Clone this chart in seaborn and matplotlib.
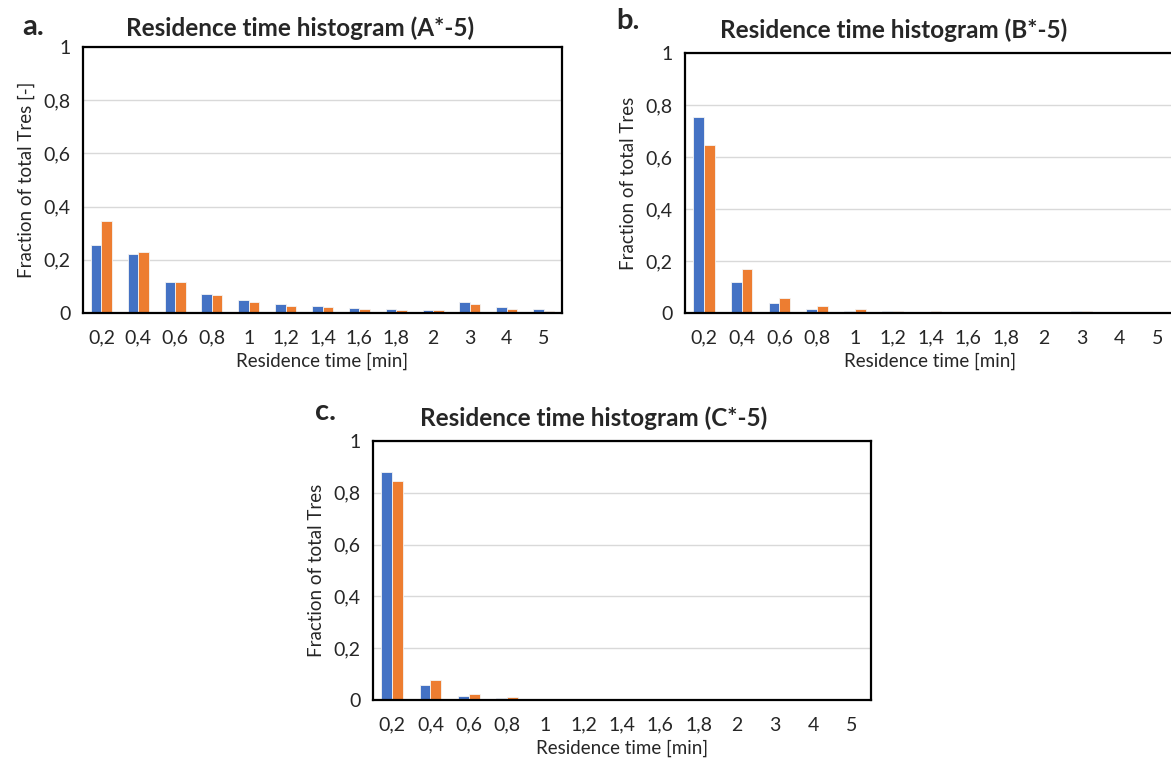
import numpy as np
import pandas as pd
import matplotlib.pyplot as plt
import seaborn as sns

sns.set_theme(style="white")
plt.rcParams["font.family"] = ["Lato", "DejaVu Sans"]

# ── Data ────────────────────────────────────────────────────
time_labels = ["0,2", "0,4", "0,6", "0,8", "1", "1,2", "1,4", "1,6", "1,8", "2", "3", "4", "5"]

a_blue = [0.254, 0.223, 0.118, 0.071, 0.048, 0.035, 0.027, 0.020, 0.016, 0.013, 0.043, 0.024, 0.014]
a_orange = [0.346, 0.228, 0.115, 0.066, 0.043, 0.028, 0.022, 0.016, 0.013, 0.010, 0.033, 0.016, 0.008]

b_blue = [0.755, 0.121, 0.039, 0.017, 0.009, 0.006, 0.005, 0.001, 0.001, 0.0005, 0.006, 0.001, 0.001]
b_orange = [0.645, 0.170, 0.058, 0.027, 0.017, 0.009, 0.009, 0.005, 0.004, 0.002, 0.009, 0.004, 0.003]

c_blue = [0.880, 0.058, 0.017, 0.008, 0.004, 0.003, 0.001, 0.0005, 0.0005, 0.0005, 0.001, 0.0005, 0.0005]
c_orange = [0.847, 0.077, 0.023, 0.012, 0.004, 0.003, 0.001, 0.0005, 0.0005, 0.0005, 0.002, 0.0005, 0.0005]

y_ticks = [0, 0.2, 0.4, 0.6, 0.8, 1.0]
y_labels = ["0", "0,2", "0,4", "0,6", "0,8", "1"]

BLUE = "#4472C4"
ORANGE = "#ED7D31"

W, H = 1171, 760
fig = plt.figure(figsize=(W / 100, H / 100), dpi=100)


def px_axes(x0, y0, x1, y1):
    # pixel box (top-left origin) -> figure axes
    return fig.add_axes([x0 / W, 1 - y1 / H, (x1 - x0) / W, (y1 - y0) / H])


def draw_panel(ax, blue, orange, ylabel):
    df = pd.DataFrame({
        "time": time_labels * 2,
        "frac": blue + orange,
        "series": ["s1"] * len(blue) + ["s2"] * len(orange),
    })
    sns.barplot(
        data=df, x="time", y="frac", hue="series", order=time_labels,
        palette=[BLUE, ORANGE], saturation=1, width=0.57, legend=False, ax=ax,
        edgecolor="#f4f4f4", linewidth=0.6,
    )
    n = len(time_labels)
    ax.set_xlim(-0.5, n - 0.5)
    ax.set_ylim(0, 1)
    ax.set_yticks(y_ticks)
    ax.set_yticklabels(y_labels, fontsize=14)
    # category-boundary ticks, labels at centres
    ax.set_xticks(np.arange(-0.5, n, 1.0))
    ax.set_xticklabels([])
    ax.set_xticks(np.arange(n), minor=True)
    ax.set_xticklabels(time_labels, minor=True, fontsize=14)
    ax.tick_params(axis="x", which="major", length=5, width=1.2, color="black", direction="out")
    ax.tick_params(axis="x", which="minor", length=0, pad=12)
    ax.tick_params(axis="y", length=5, width=1.2, color="black", direction="out", pad=4)
    ax.grid(axis="y", color="#D9D9D9", linewidth=1.0)
    ax.set_axisbelow(True)
    for sp in ax.spines.values():
        sp.set_visible(True)
        sp.set_color("black")
        sp.set_linewidth(1.6)
    ax.set_xlabel("Residence time [min]", fontsize=13.5, labelpad=4)
    ax.set_ylabel(ylabel, fontsize=13.5, labelpad=6)


ax_a = px_axes(83, 47, 562, 313)
draw_panel(ax_a, a_blue, a_orange, "Fraction of total Tres [-]")

ax_b = px_axes(685, 53, 1176, 313)
draw_panel(ax_b, b_blue, b_orange, "Fraction of total Tres")

ax_c = px_axes(373, 441, 871, 700)
draw_panel(ax_c, c_blue, c_orange, "Fraction of total Tres")

# titles and panel letters
fig.text(300 / W, 1 - 28 / H, "Residence time histogram (A*-5)", fontsize=17.5,
         fontweight="bold", ha="center", va="center")
fig.text(894 / W, 1 - 30 / H, "Residence time histogram (B*-5)", fontsize=17.5,
         fontweight="bold", ha="center", va="center")
fig.text(594 / W, 1 - 418 / H, "Residence time histogram (C*-5)", fontsize=17.5,
         fontweight="bold", ha="center", va="center")

fig.text(33 / W, 1 - 27 / H, "a.", fontsize=21, fontweight="bold", ha="center", va="center")
fig.text(628 / W, 1 - 21 / H, "b.", fontsize=21, fontweight="bold", ha="center", va="center")
fig.text(325 / W, 1 - 412 / H, "c.", fontsize=21, fontweight="bold", ha="center", va="center")

fig.savefig("out.png", dpi=100)
